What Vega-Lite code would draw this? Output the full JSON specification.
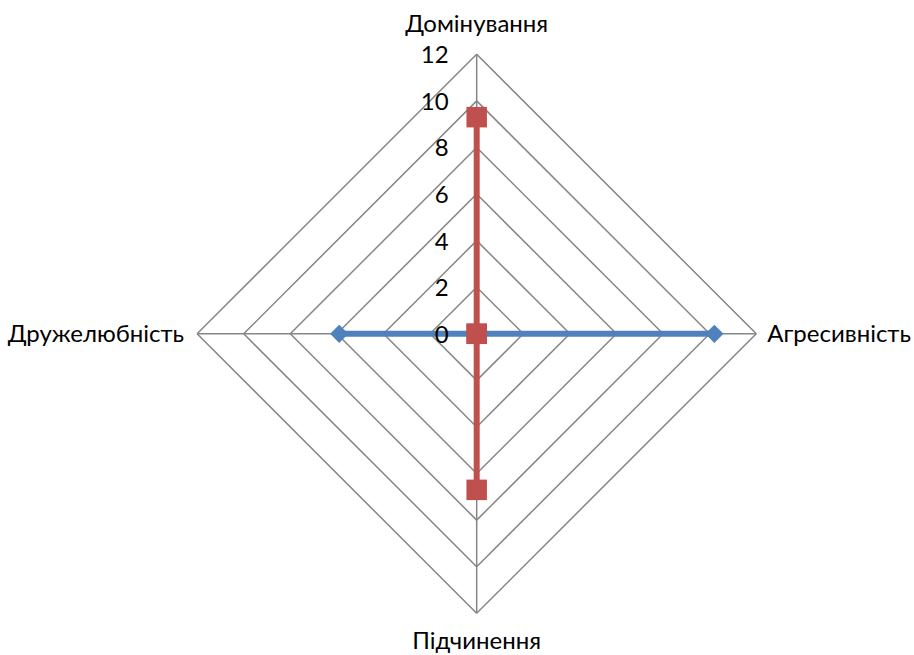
{
  "$schema": "https://vega.github.io/schema/vega-lite/v6.json",
  "width": 914,
  "height": 655,
  "autosize": {"type": "none"},
  "padding": 0,
  "background": "white",
  "config": {"view": {"stroke": null}, "font": "Lato"},
  "datasets": {
    "series": [
      {"series": "Ряд1", "axis": "Домінування", "value": 0},
      {"series": "Ряд1", "axis": "Агресивність", "value": 10.2},
      {"series": "Ряд1", "axis": "Підчинення", "value": 0},
      {"series": "Ряд1", "axis": "Дружелюбність", "value": 5.9},
      {"series": "Ряд2", "axis": "Домінування", "value": 9.3},
      {"series": "Ряд2", "axis": "Агресивність", "value": 0},
      {"series": "Ряд2", "axis": "Підчинення", "value": 6.7},
      {"series": "Ряд2", "axis": "Дружелюбність", "value": 0}
    ],
    "levels": [
      {"level": 0}, {"level": 2}, {"level": 4}, {"level": 6},
      {"level": 8}, {"level": 10}, {"level": 12}
    ],
    "axes": [
      {"axis": "Домінування"},
      {"axis": "Агресивність"},
      {"axis": "Підчинення"},
      {"axis": "Дружелюбність"}
    ]
  },
  "layer": [
    {
      "data": {"name": "levels"},
      "transform": [
        {"filter": "datum.level > 0"},
        {"calculate": "['Домінування','Агресивність','Підчинення','Дружелюбність']", "as": "ax"},
        {"flatten": ["ax"]},
        {"calculate": "datum.ax === 'Агресивність' ? 1 : (datum.ax === 'Дружелюбність' ? -1 : 0)", "as": "ux"},
        {"calculate": "datum.ax === 'Домінування' ? 1 : (datum.ax === 'Підчинення' ? -1 : 0)", "as": "uy"},
        {"calculate": "datum.level * datum.ux", "as": "gx"},
        {"calculate": "datum.level * datum.uy", "as": "gy"},
        {"calculate": "datum.level * datum.uy", "as": "gx2"},
        {"calculate": "-datum.level * datum.ux", "as": "gy2"}
      ],
      "mark": {"type": "rule", "color": "#868686", "strokeWidth": 1.5},
      "encoding": {
        "x": {"field": "gx", "type": "quantitative", "scale": {"domain": [-20.46, 18.77], "nice": false, "zero": false}, "axis": null},
        "y": {"field": "gy", "type": "quantitative", "scale": {"domain": [-13.79, 14.33], "nice": false, "zero": false}, "axis": null},
        "x2": {"field": "gx2"},
        "y2": {"field": "gy2"}
      }
    },
    {
      "data": {"name": "axes"},
      "transform": [
        {"calculate": "0", "as": "ox"},
        {"calculate": "0", "as": "oy"},
        {"calculate": "datum.axis === 'Агресивність' ? 12 : (datum.axis === 'Дружелюбність' ? -12 : 0)", "as": "ex"},
        {"calculate": "datum.axis === 'Домінування' ? 12 : (datum.axis === 'Підчинення' ? -12 : 0)", "as": "ey"}
      ],
      "mark": {"type": "rule", "color": "#868686", "strokeWidth": 1.5},
      "encoding": {
        "x": {"field": "ox", "type": "quantitative"},
        "y": {"field": "oy", "type": "quantitative"},
        "x2": {"field": "ex"},
        "y2": {"field": "ey"}
      }
    },
    {
      "data": {"name": "series"},
      "transform": [
        {"filter": "datum.series === 'Ряд1'"},
        {"calculate": "indexof(['Домінування','Агресивність','Підчинення','Дружелюбність'], datum.axis)", "as": "k"},
        {"calculate": "datum.axis === 'Агресивність' ? datum.value : (datum.axis === 'Дружелюбність' ? -datum.value : 0)", "as": "px"},
        {"calculate": "datum.axis === 'Домінування' ? datum.value : (datum.axis === 'Підчинення' ? -datum.value : 0)", "as": "py"}
      ],
      "mark": {"type": "line", "color": "#4F81BD", "strokeWidth": 6},
      "encoding": {
        "x": {"field": "px", "type": "quantitative"},
        "y": {"field": "py", "type": "quantitative"},
        "order": {"field": "k", "type": "quantitative"}
      }
    },
    {
      "data": {"name": "series"},
      "transform": [
        {"filter": "datum.series === 'Ряд2'"},
        {"calculate": "indexof(['Домінування','Агресивність','Підчинення','Дружелюбність'], datum.axis)", "as": "k"},
        {"calculate": "datum.axis === 'Агресивність' ? datum.value : (datum.axis === 'Дружелюбність' ? -datum.value : 0)", "as": "px"},
        {"calculate": "datum.axis === 'Домінування' ? datum.value : (datum.axis === 'Підчинення' ? -datum.value : 0)", "as": "py"}
      ],
      "mark": {"type": "line", "color": "#C0504D", "strokeWidth": 6},
      "encoding": {
        "x": {"field": "px", "type": "quantitative"},
        "y": {"field": "py", "type": "quantitative"},
        "order": {"field": "k", "type": "quantitative"}
      }
    },
    {
      "data": {"name": "series"},
      "transform": [
        {"filter": "datum.series === 'Ряд1'"},
        {"calculate": "datum.axis === 'Агресивність' ? datum.value : (datum.axis === 'Дружелюбність' ? -datum.value : 0)", "as": "px"},
        {"calculate": "datum.axis === 'Домінування' ? datum.value : (datum.axis === 'Підчинення' ? -datum.value : 0)", "as": "py"}
      ],
      "mark": {"type": "point", "shape": "diamond", "filled": true, "opacity": 1, "size": 335, "color": "#4F81BD"},
      "encoding": {
        "x": {"field": "px", "type": "quantitative"},
        "y": {"field": "py", "type": "quantitative"}
      }
    },
    {
      "data": {"name": "series"},
      "transform": [
        {"filter": "datum.series === 'Ряд2'"},
        {"calculate": "datum.axis === 'Агресивність' ? datum.value : (datum.axis === 'Дружелюбність' ? -datum.value : 0)", "as": "px"},
        {"calculate": "datum.axis === 'Домінування' ? datum.value : (datum.axis === 'Підчинення' ? -datum.value : 0)", "as": "py"}
      ],
      "mark": {"type": "point", "shape": "square", "filled": true, "opacity": 1, "size": 420, "color": "#C0504D"},
      "encoding": {
        "x": {"field": "px", "type": "quantitative"},
        "y": {"field": "py", "type": "quantitative"}
      }
    },
    {
      "data": {"name": "levels"},
      "transform": [{"calculate": "0", "as": "ox"}],
      "mark": {"type": "text", "align": "right", "baseline": "middle", "dx": -28, "dy": 2, "fontSize": 24, "color": "#000000"},
      "encoding": {
        "x": {"field": "ox", "type": "quantitative"},
        "y": {"field": "level", "type": "quantitative"},
        "text": {"field": "level", "type": "quantitative"}
      }
    },
    {
      "data": {"name": "axes"},
      "transform": [
        {"filter": "datum.axis === 'Домінування'"},
        {"calculate": "0", "as": "lx"},
        {"calculate": "12", "as": "ly"}
      ],
      "mark": {"type": "text", "align": "center", "baseline": "middle", "dy": -29, "fontSize": 24, "color": "#000000"},
      "encoding": {
        "x": {"field": "lx", "type": "quantitative"},
        "y": {"field": "ly", "type": "quantitative"},
        "text": {"field": "axis", "type": "nominal"}
      }
    },
    {
      "data": {"name": "axes"},
      "transform": [
        {"filter": "datum.axis === 'Підчинення'"},
        {"calculate": "0", "as": "lx"},
        {"calculate": "-12", "as": "ly"}
      ],
      "mark": {"type": "text", "align": "center", "baseline": "middle", "dy": 29, "fontSize": 24, "color": "#000000"},
      "encoding": {
        "x": {"field": "lx", "type": "quantitative"},
        "y": {"field": "ly", "type": "quantitative"},
        "text": {"field": "axis", "type": "nominal"}
      }
    },
    {
      "data": {"name": "axes"},
      "transform": [
        {"filter": "datum.axis === 'Агресивність'"},
        {"calculate": "12", "as": "lx"},
        {"calculate": "0", "as": "ly"}
      ],
      "mark": {"type": "text", "align": "left", "baseline": "middle", "dx": 11, "dy": 1, "fontSize": 24, "color": "#000000"},
      "encoding": {
        "x": {"field": "lx", "type": "quantitative"},
        "y": {"field": "ly", "type": "quantitative"},
        "text": {"field": "axis", "type": "nominal"}
      }
    },
    {
      "data": {"name": "axes"},
      "transform": [
        {"filter": "datum.axis === 'Дружелюбність'"},
        {"calculate": "-12", "as": "lx"},
        {"calculate": "0", "as": "ly"}
      ],
      "mark": {"type": "text", "align": "right", "baseline": "middle", "dx": -13, "dy": 1, "fontSize": 24, "color": "#000000"},
      "encoding": {
        "x": {"field": "lx", "type": "quantitative"},
        "y": {"field": "ly", "type": "quantitative"},
        "text": {"field": "axis", "type": "nominal"}
      }
    }
  ]
}
